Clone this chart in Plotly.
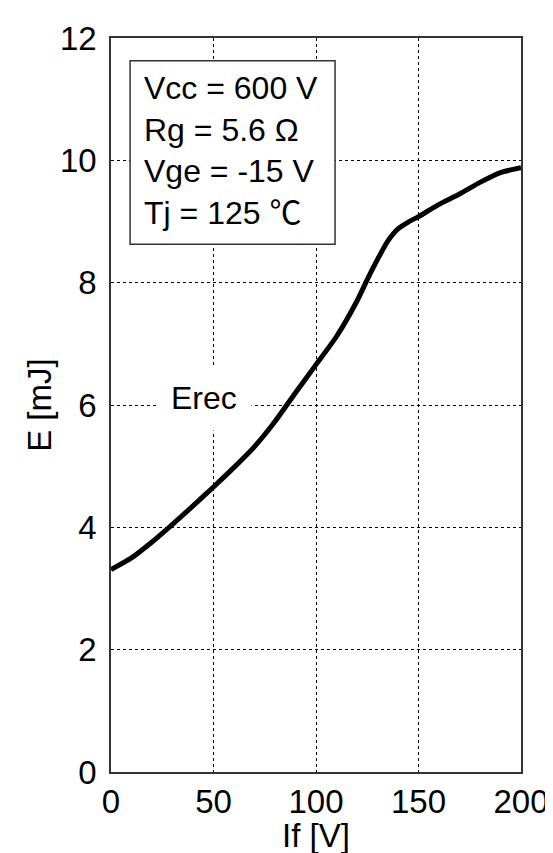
import plotly.graph_objects as go

# Data
if_current = [0, 10, 20, 30, 40, 50, 60, 70, 80, 90, 100, 110, 120, 125, 130, 135, 140, 145, 150, 160, 170, 180, 190, 200]
erec = [3.31, 3.50, 3.76, 4.05, 4.35, 4.66, 4.98, 5.32, 5.73, 6.20, 6.66, 7.12, 7.70, 8.05, 8.38, 8.68, 8.88, 8.99, 9.08, 9.28, 9.45, 9.64, 9.80, 9.88]

x_ticks = [0, 50, 100, 150, 200]
y_ticks = [0, 2, 4, 6, 8, 10, 12]
cond_lines = ["Vcc = 600 V", "Rg = 5.6 Ω", "Vge = -15 V", "Tj = 125 ℃"]
curve_label = "Erec"
x_title = "If [V]"
y_title = "E [mJ]"

FONT = "Liberation Sans, Arial, Noto Sans CJK SC, sans-serif"
FS = 33

fig = go.Figure()
fig.add_trace(go.Scatter(
    x=if_current, y=erec, mode="lines",
    line=dict(color="black", width=5, shape="spline", smoothing=0.6),
    showlegend=False, hoverinfo="skip",
))

axis_common = dict(
    showgrid=True, gridcolor="black", gridwidth=1, griddash="3px,3px",
    showline=True, linecolor="#333", linewidth=1.5, mirror=True,
    zeroline=False, ticks="", tickfont=dict(family=FONT, size=FS, color="black"),
)

fig.update_xaxes(range=[0, 200], tickvals=x_ticks, ticktext=[str(v) for v in x_ticks],
                 ticklabelstandoff=0, **axis_common)
fig.update_yaxes(range=[0, 12], tickvals=y_ticks, ticktext=[str(v) for v in y_ticks],
                 ticklabelstandoff=6, **axis_common)

# Axis titles placed as annotations for precise positioning
fig.add_annotation(xref="paper", yref="paper", x=0.5, y=-0.086, xanchor="center", yanchor="middle",
                   showarrow=False, text=x_title, font=dict(family=FONT, size=FS, color="black"))
fig.add_annotation(xref="paper", yref="paper", x=-0.176, y=0.5, xanchor="center", yanchor="middle",
                   showarrow=False, text=y_title, textangle=-90,
                   font=dict(family=FONT, size=FS, color="black"))

# Conditions box
fig.add_shape(type="rect", xref="x", yref="y", x0=9.3, x1=109.3, y0=8.63, y1=11.63,
              line=dict(color="#333", width=1.5), fillcolor="white", layer="above")
fig.add_annotation(xref="x", yref="y", x=15.3, y=10.16, xanchor="left", yanchor="middle",
                   align="left", showarrow=False, text="<br>".join(cond_lines),
                   font=dict(family=FONT, size=32, color="black"))

fig.add_annotation(xref="x", yref="y", x=45.6, y=6.12, showarrow=False, text=curve_label,
                   bgcolor="white", borderpad=14,
                   font=dict(family=FONT, size=32, color="black"))

fig.update_layout(
    width=553, height=853,
    margin=dict(l=103, r=36, t=24, b=89),
    paper_bgcolor="white", plot_bgcolor="white",
)

fig.write_html("out.html")
